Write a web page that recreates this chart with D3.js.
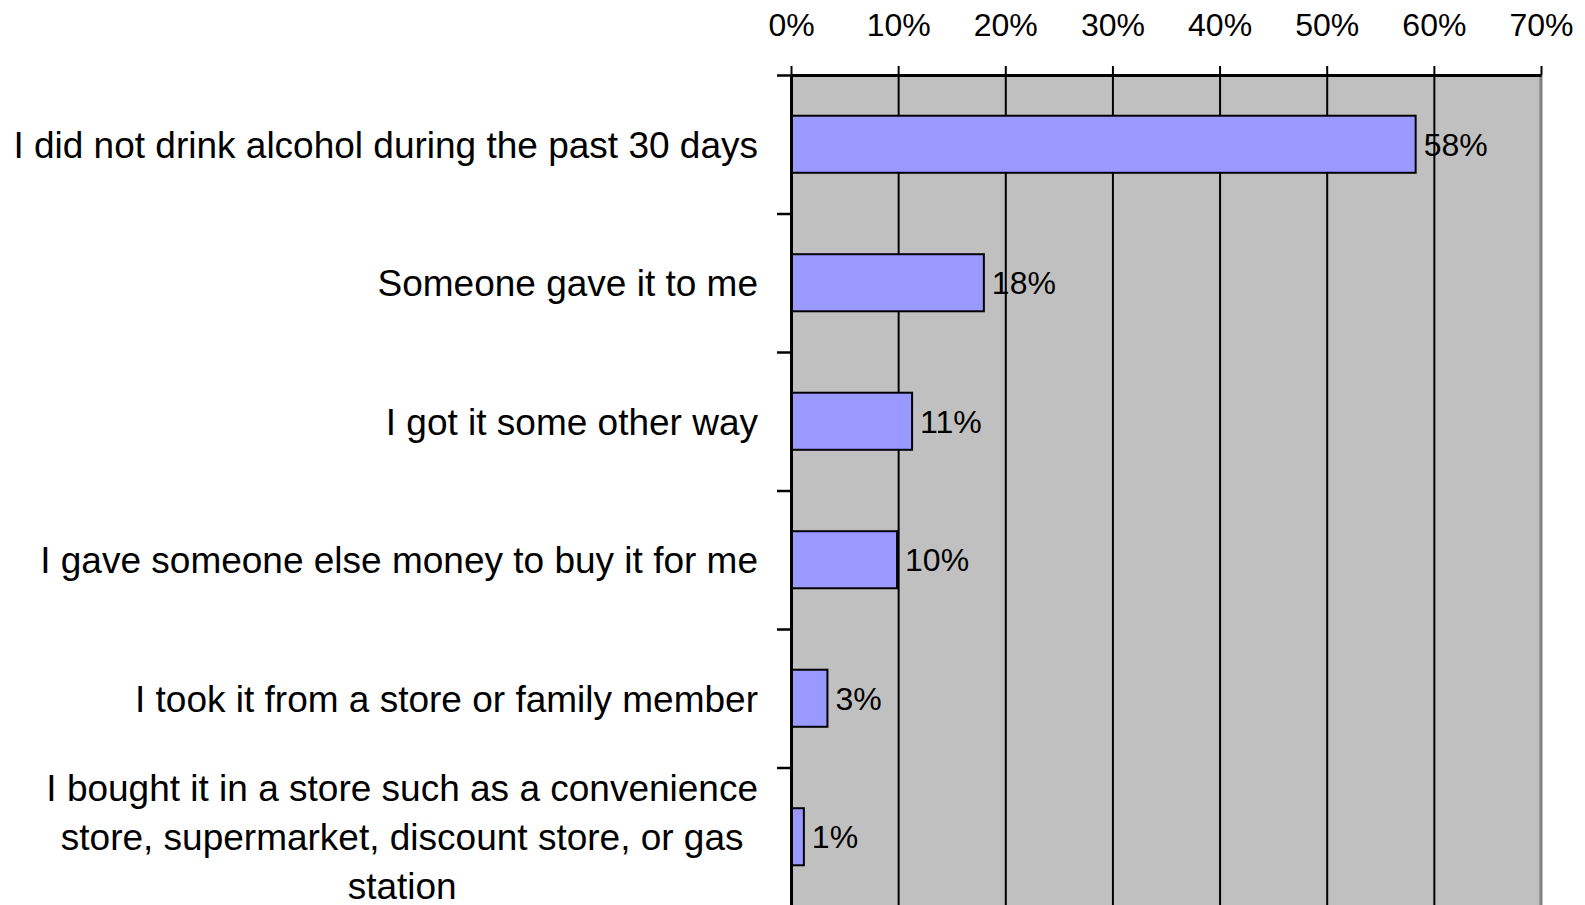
<!DOCTYPE html>
<html>
<head>
<meta charset="utf-8">
<script src="https://cdn.jsdelivr.net/npm/d3@7"></script>
<style>
body { margin:0; background:#fff; }
svg { display:block; font-family:"Liberation Sans", Arial, sans-serif; }
</style>
</head>
<body>
<svg></svg>
<script>
// answers, top to bottom
var categories = [
    "I did not drink alcohol during the past 30 days",
    "Someone gave it to me",
    "I got it some other way",
    "I gave someone else money to buy it for me",
    "I took it from a store or family member",
    "I bought it in a store such as a convenience store, supermarket, discount store, or gas station"
];
var values = [0.583, 0.18, 0.113, 0.099, 0.034, 0.012];
var tickValues = [0, 0.1, 0.2, 0.3, 0.4, 0.5, 0.6, 0.7];

var screen = {width:1585, height:905}
var plot = {left:791, right:1541, top:75, bottom:906}

var svg = d3.select("svg")
    .attr("width", screen.width)
    .attr("height", screen.height)

var xScale = d3.scaleLinear()
    .domain([0, 0.7])
    .range([plot.left, plot.right])

var yScale = d3.scaleBand()
    .domain(categories)
    .range([plot.top, plot.bottom])
    .paddingInner(0.588)
    .paddingOuter(0.294)

// boundaries between categories, for the little ticks on the left
var yEdge = d3.scaleLinear()
    .domain([0, categories.length])
    .range([plot.top, plot.bottom])

// plot background
svg.append("rect")
    .attr("x", plot.left)
    .attr("y", plot.top)
    .attr("width", plot.right - plot.left)
    .attr("height", plot.bottom - plot.top)
    .attr("fill", "#c0c0c0")

// gridlines
var grid = svg.append("g")
    .attr("transform", "translate(0," + plot.top + ")")
    .call(d3.axisBottom(xScale)
        .tickValues(tickValues.slice(1, -1))
        .tickSize(plot.bottom - plot.top)
        .tickFormat(""))
grid.select(".domain").remove()
grid.selectAll("line").attr("stroke", "#000").attr("stroke-width", 2)

// right border of the plot area
svg.append("line")
    .attr("x1", plot.right).attr("x2", plot.right)
    .attr("y1", plot.top).attr("y2", plot.bottom)
    .attr("stroke", "#808080")
    .attr("stroke-width", 3)

// bars
svg.append("g")
    .selectAll("rect")
    .data(values)
    .enter()
    .append("rect")
    .attr("x", xScale(0))
    .attr("y", function(d, i) { return yScale(categories[i]); })
    .attr("width", function(d) { return xScale(d) - xScale(0); })
    .attr("height", yScale.bandwidth())
    .attr("fill", "#9999ff")
    .attr("stroke", "#000")
    .attr("stroke-width", 2)

// value labels
svg.append("g")
    .selectAll("text")
    .data(values)
    .enter()
    .append("text")
    .attr("x", function(d) { return xScale(d) + 8; })
    .attr("y", function(d, i) { return yScale(categories[i]) + yScale.bandwidth() / 2; })
    .attr("dy", "0.36em")
    .attr("font-size", 32)
    .attr("fill", "#000")
    .text(d3.format(".0%"))

// top axis
var xAxis = svg.append("g")
    .attr("transform", "translate(0," + plot.top + ")")
    .call(d3.axisTop(xScale)
        .tickValues(tickValues)
        .tickSize(9)
        .tickSizeOuter(0)
        .tickPadding(30)
        .tickFormat(d3.format(".0%")))
xAxis.select(".domain").attr("stroke", "#000").attr("stroke-width", 3)
xAxis.selectAll("line").attr("stroke", "#000").attr("stroke-width", 2)
xAxis.selectAll("text")
    .attr("font-size", 32)
    .attr("font-family", "Liberation Sans, Arial, sans-serif")
    .attr("fill", "#000")

// left axis with ticks between categories
var yAxis = svg.append("g")
    .attr("transform", "translate(" + plot.left + ",0)")
    .call(d3.axisLeft(yEdge)
        .tickValues(d3.range(0, categories.length))
        .tickSize(14)
        .tickSizeOuter(0)
        .tickFormat(""))
yAxis.select(".domain").attr("stroke", "#000").attr("stroke-width", 3)
yAxis.selectAll("line").attr("stroke", "#000").attr("stroke-width", 2.5)

// category labels, wrapped like the spreadsheet did
var labelRight = 758
var wrapWidth = 750
var lineHeight = 49

var labels = svg.append("g")
    .attr("font-size", 37)
    .attr("fill", "#000")

categories.forEach(function(cat, i) {
    var cy = yScale(cat) + yScale.bandwidth() / 2
    var text = labels.append("text").attr("text-anchor", "middle")
    var words = cat.split(" ")
    var lines = []
    var line = []
    var probe = text.append("tspan")
    words.forEach(function(w) {
        line.push(w)
        probe.text(line.join(" "))
        if (probe.node().getComputedTextLength() > wrapWidth && line.length > 1) {
            line.pop()
            lines.push(line.join(" "))
            line = [w]
        }
    })
    lines.push(line.join(" "))
    probe.remove()

    var maxW = 0
    lines.forEach(function(l) {
        var t = text.append("tspan").text(l)
        maxW = Math.max(maxW, t.node().getComputedTextLength())
    })
    var cx = labelRight - maxW / 2
    text.selectAll("tspan")
        .attr("x", cx)
        .attr("y", function(d, j) {
            return cy + (j - (lines.length - 1) / 2) * lineHeight
        })
        .attr("dy", "0.36em")
})
</script>
</body>
</html>
